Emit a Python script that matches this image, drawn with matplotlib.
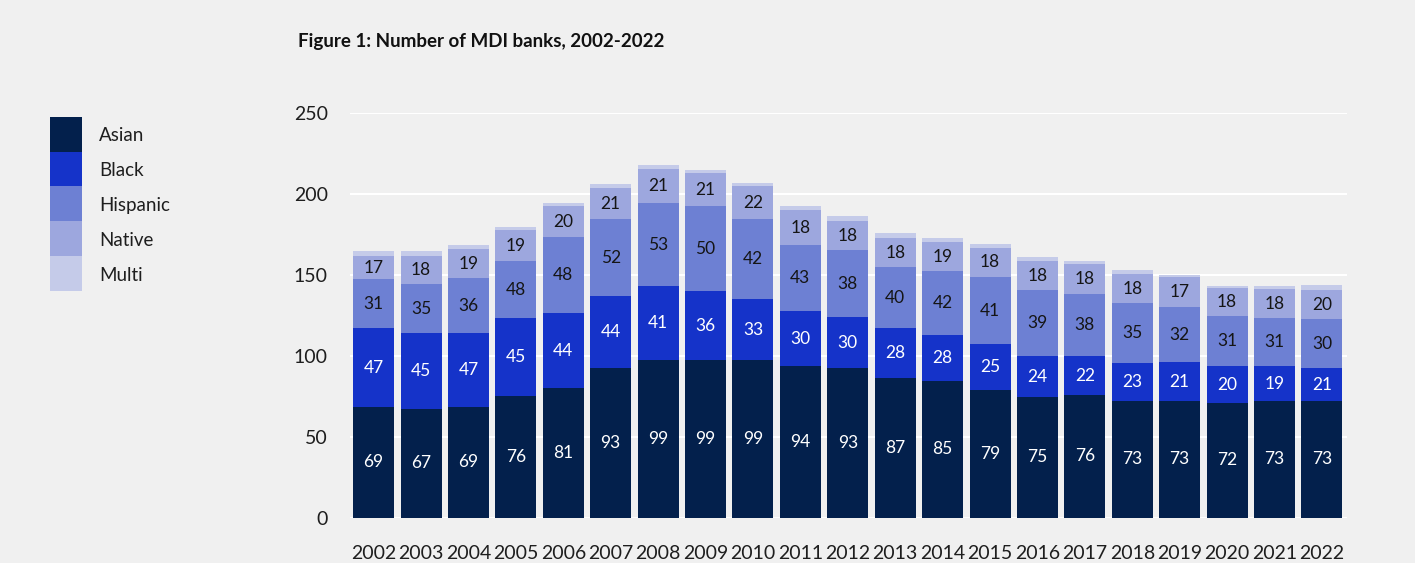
import matplotlib
matplotlib.use("Agg")
import matplotlib.pyplot as plt
import numpy as np
from matplotlib.patches import Rectangle

# ── Data ──────────────────────────────────────────────────────────────
years = [str(y) for y in range(2002, 2023)]

# segment heights as drawn in the reference
asian = [68.2, 67.0, 68.2, 75.0, 79.9, 92.3, 97.2, 97.2, 97.2, 93.5, 92.3,
         86.1, 84.3, 78.7, 74.4, 75.6, 71.9, 71.9, 70.7, 71.9, 71.9]
black = [48.8, 46.9, 45.7, 48.1, 46.3, 44.4, 45.7, 42.6, 37.7, 34.0, 31.5,
         30.9, 28.4, 28.4, 25.3, 24.1, 23.5, 24.1, 22.8, 21.6, 20.4]
hispanic = [30.2, 30.2, 33.9, 35.2, 46.9, 47.6, 51.2, 52.5, 49.4, 40.7, 41.3,
            37.6, 39.5, 41.4, 40.7, 38.2, 37.0, 33.9, 30.9, 29.6, 30.2]
native = [14.2, 17.3, 17.9, 19.2, 19.2, 19.1, 21.0, 20.4, 20.3, 21.6, 17.9,
          17.9, 17.9, 17.9, 17.9, 18.6, 17.9, 18.6, 17.3, 17.9, 17.9]
multi = [3.1, 3.1, 2.5, 1.8, 1.8, 2.5, 2.5, 1.8, 1.9, 2.5, 3.1,
         3.1, 2.4, 2.4, 2.5, 1.8, 2.5, 1.2, 1.3, 1.9, 3.1]

# numbers printed on the segments
asian_lbl = [69, 67, 69, 76, 81, 93, 99, 99, 99, 94, 93, 87, 85, 79, 75, 76, 73, 73, 72, 73, 73]
black_lbl = [47, 45, 47, 45, 44, 44, 41, 36, 33, 30, 30, 28, 28, 25, 24, 22, 23, 21, 20, 19, 21]
hispanic_lbl = [31, 35, 36, 48, 48, 52, 53, 50, 42, 43, 38, 40, 42, 41, 39, 38, 35, 32, 31, 31, 30]
native_lbl = [17, 18, 19, 19, 20, 21, 21, 21, 22, 18, 18, 18, 19, 18, 18, 18, 18, 17, 18, 18, 20]

series = [
    ("Asian", asian, asian_lbl, "#03204c", "white"),
    ("Black", black, black_lbl, "#1533c9", "white"),
    ("Hispanic", hispanic, hispanic_lbl, "#6d80d3", "#151515"),
    ("Native", native, native_lbl, "#9da7de", "#151515"),
    ("Multi", multi, None, "#c5cbe9", None),
]

BG = "#f0f0f0"
TXT = "#1e1e1e"
plt.rcParams["font.family"] = ["Lato", "DejaVu Sans"]

fig = plt.figure(figsize=(14.15, 5.63), dpi=100, facecolor=BG)
ax = fig.add_axes([0.2473, 0.0808, 0.7047, 0.7192])
ax.set_facecolor(BG)

x = np.arange(len(years))
bottom = np.zeros(len(years))
for name, vals, lbls, color, tcolor in series:
    vals = np.array(vals, dtype=float)
    ax.bar(x, vals, bottom=bottom, width=0.865, color=color, label=name, zorder=2)
    if lbls is not None:
        for xi, b, v, t in zip(x, bottom, vals, lbls):
            ax.text(xi, b + v / 2, f"{t}", ha="center", va="center",
                    color=tcolor, fontsize=12.5, zorder=3)
    bottom += vals

ax.set_xlim(-0.5, 20.53)
ax.set_ylim(0, 250)
ax.set_yticks(range(0, 251, 50))
ax.yaxis.grid(True, color="white", lw=1.5, zorder=1)
ax.set_axisbelow(True)
for s in ax.spines.values():
    s.set_visible(False)
ax.tick_params(axis="both", length=0, labelsize=14, colors=TXT)
ax.tick_params(axis="y", pad=16)
ax.tick_params(axis="x", pad=20)
ax.set_xticks(x)
ax.set_xticklabels(years)

# Title
fig.text(298 / 1415, 1 - 42 / 563, "Figure 1: Number of MDI banks, 2002-2022",
         fontsize=13.5, fontweight="bold", ha="left", va="center", color="#111111")

# Legend: contiguous stacked swatches
sw_left, sw_w, sw_h, sw_top = 50, 32, 34.9, 116.7
for i, (name, vals, lbls, color, tcolor) in enumerate(series):
    y0 = sw_top + i * sw_h
    fig.patches.append(Rectangle((sw_left / 1415, 1 - (y0 + sw_h) / 563),
                                 sw_w / 1415, sw_h / 563,
                                 transform=fig.transFigure, color=color, lw=0))
    fig.text(99 / 1415, 1 - (y0 + sw_h / 2 + 1.5) / 563, name, fontsize=13.5,
             ha="left", va="center", color=TXT)

fig.savefig("out.png", dpi=100, facecolor=BG)
